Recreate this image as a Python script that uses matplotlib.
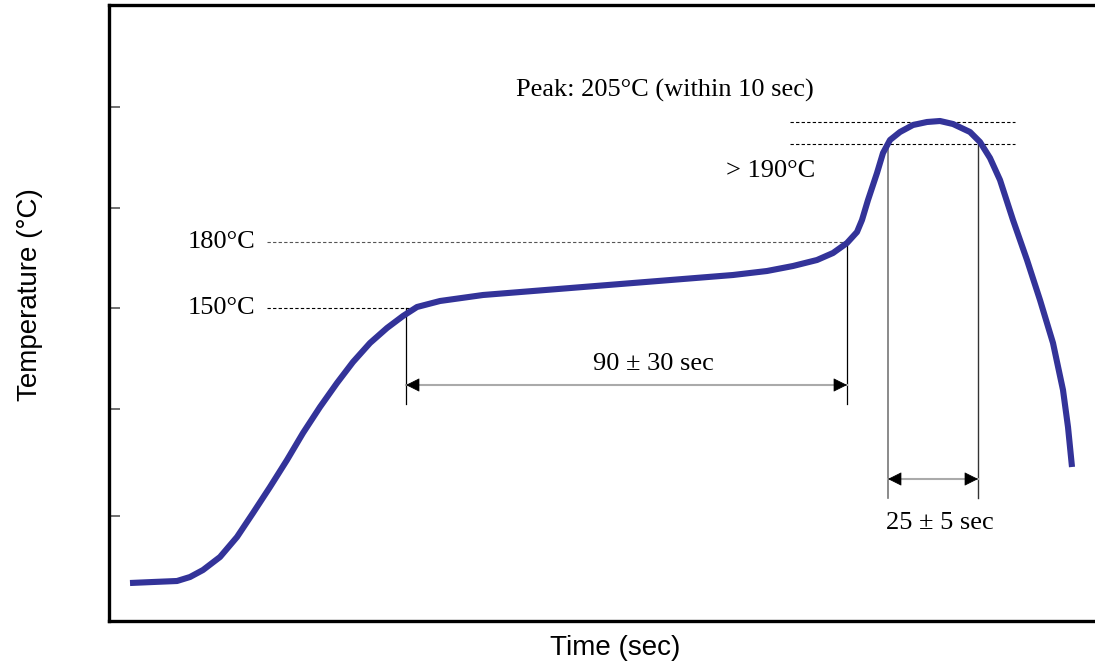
import numpy as np
import matplotlib.pyplot as plt

# schematic reflow profile (arbitrary units)
time = [21, 44, 68, 81, 94, 111, 128, 144, 161, 178, 194, 211, 228, 244, 261, 278, 294,
        308, 331, 374, 424, 474, 524, 574, 624, 658, 684, 708, 724, 738, 748,
        753, 759, 768, 774, 781, 791, 804, 818, 831, 844, 861, 871, 881, 891,
        904, 918, 931, 944, 954, 959, 963]
temp = [38, 39, 40, 44, 51, 64, 84, 108, 134, 161, 188, 214, 238, 259, 278, 293, 305,
        314, 320, 326, 330, 334, 338, 342, 346, 350, 355, 361, 368, 378, 389,
        401, 421, 448, 468, 481, 489, 496, 499, 500, 497, 489, 479, 463, 441,
        401, 361, 321, 278, 231, 194, 154]

yticks = [105, 212, 313, 413, 514]

t150, t180, t190, tpeak = 313, 379, 477, 499
soak_start, soak_end = 297, 738
reflow_start, reflow_end = 779, 869

serif = 'Liberation Serif'
sans = 'Liberation Sans'

fig = plt.figure(figsize=(10.95, 6.62), dpi=100)
ax = fig.add_axes([109/1095, 41/662, 997/1095, 616/662])
ax.set_xlim(0, 997)
ax.set_ylim(0, 616)

ax.plot(time, temp, color='#333399', lw=4.4, solid_joinstyle='round',
        solid_capstyle='butt', zorder=5)

# dashed guide lines
ax.plot([158, 301], [t150, t150], color='black', lw=0.8, ls=(0, (3, 2)))
ax.plot([158, 738], [t180, t180], color='#555555', lw=0.8, ls=(0, (3, 2)))
ax.plot([681, 906], [tpeak, tpeak], color='black', lw=0.8, ls=(0, (3, 2)))
ax.plot([681, 906], [t190, t190], color='black', lw=0.8, ls=(0, (3, 2)))

# vertical markers
ax.plot([soak_start, soak_start], [t150, 217], color='black', lw=0.9)
ax.plot([soak_end, soak_end], [376, 217], color='black', lw=0.9)
ax.plot([reflow_start, reflow_start], [t190, 123], color='#777777', lw=1.2)
ax.plot([reflow_end, reflow_end], [t190, 123], color='#333333', lw=1.0)

# dimension arrows: grey shaft, black heads
head = dict(arrowstyle='-|>', color='black', lw=0.5, mutation_scale=22,
            shrinkA=0, shrinkB=0)
for y, x0, x1 in [(236, soak_start, soak_end), (142, reflow_start, reflow_end)]:
    ax.plot([x0, x1], [y, y], color='#aaaaaa', lw=1.5)
    ax.annotate('', xy=(x0, y), xytext=(x0 + 12, y), arrowprops=head)
    ax.annotate('', xy=(x1, y), xytext=(x1 - 12, y), arrowprops=head)

ax.text(146, t180, '180°C', family=serif, fontsize=19, ha='right', va='center')
ax.text(146, t150, '150°C', family=serif, fontsize=19, ha='right', va='center')
ax.text(556, 531, 'Peak: 205°C (within 10 sec)', family=serif, fontsize=19,
        ha='center', va='center')
ax.text(706, 450, '> 190°C', family=serif, fontsize=19, ha='right', va='center')
ax.text(544, 257, '90 ± 30 sec', family=serif, fontsize=19, ha='center', va='center')
ax.text(831, 98, '25 ± 5 sec', family=serif, fontsize=19, ha='center', va='center')

ax.set_xticks([])
ax.set_yticks(yticks)
ax.set_yticklabels([])
ax.tick_params(axis='y', direction='in', length=8, width=1.2, color='#555555')
for s in ax.spines.values():
    s.set_linewidth(2.4)
    s.set_color('black')

ax.set_xlabel('Time (sec)', family=sans, fontsize=20, va='center')
ax.xaxis.set_label_coords((615 - 109) / 997, (621 - 648) / 616)
ax.set_ylabel('Temperature (°C)', family=sans, fontsize=20, va='center')
ax.yaxis.set_label_coords((30 - 109) / 997, (621 - 295) / 616)

fig.savefig('out.png', dpi=100)
